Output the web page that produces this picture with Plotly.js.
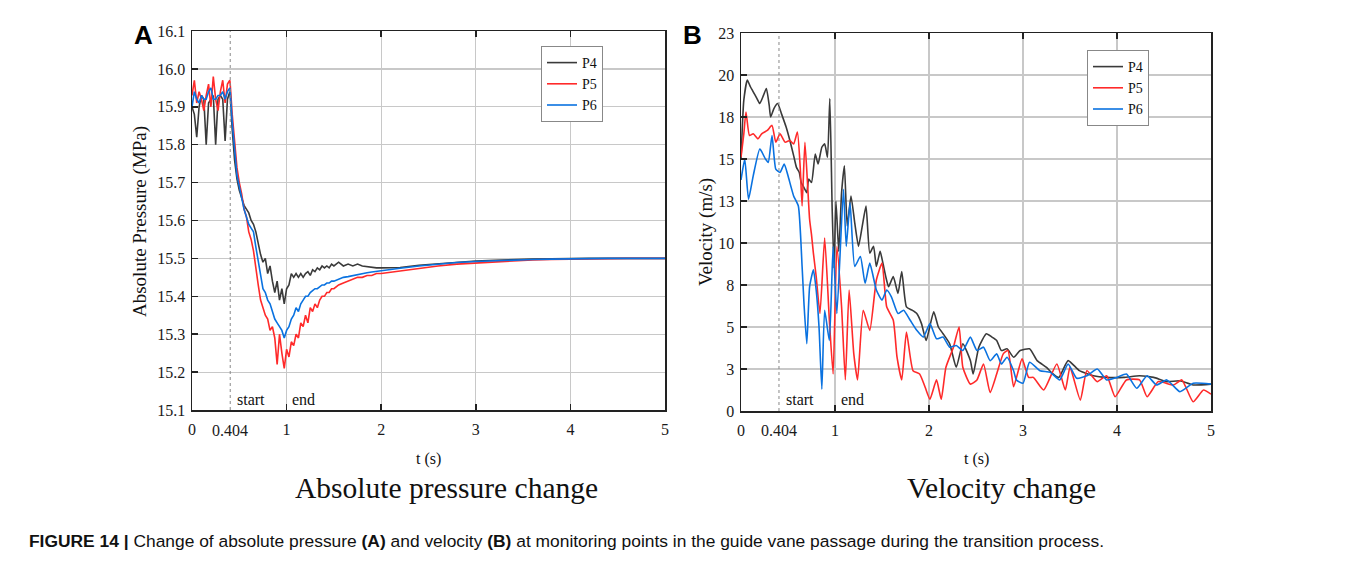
<!DOCTYPE html>
<html><head><meta charset="utf-8">
<script src="https://cdn.plot.ly/plotly-3.0.1.min.js"></script>
<style>html,body{margin:0;padding:0;background:#fff;}#chart{width:1351px;height:569px;}</style>
</head><body><div id="chart"></div>
<script>
// ---------- Panel A: absolute pressure ----------
const tA = [0,0.025,0.05,0.075,0.1,0.125,0.15,0.175,0.2,0.225,0.25,0.275,0.3,0.325,0.35,0.375,0.4,0.404,
0.425,0.45,0.475,0.5,0.525,0.55,0.575,0.6,0.625,0.65,0.675,0.7,0.725,0.75,0.775,0.8,0.825,0.85,0.875,0.9,0.925,0.95,0.975,1.0,
1.025,1.05,1.075,1.1,1.125,1.15,1.175,1.2,1.225,1.25,1.275,1.3,1.325,1.35,1.375,1.4,1.425,1.45,1.475,1.5,
1.55,1.6,1.65,1.7,1.75,1.8,1.85,1.9,1.95,2.0,
2.2,2.4,2.6,2.8,3.0,3.2,3.4,3.6,3.8,4.0,4.2,4.4,4.6,4.8,5.0];
const pP4 = [15.90,15.88,15.82,15.90,15.93,15.92,15.80,15.91,15.92,15.93,15.80,15.92,15.93,15.92,15.81,15.92,15.94,15.93,
15.84,15.76,15.71,15.68,15.66,15.64,15.63,15.62,15.60,15.59,15.57,15.54,15.51,15.49,15.50,15.46,15.48,15.44,15.41,15.44,15.39,15.42,15.38,15.42,
15.43,15.46,15.45,15.46,15.45,15.46,15.45,15.46,15.465,15.455,15.47,15.465,15.475,15.47,15.48,15.475,15.48,15.475,15.485,15.48,
15.49,15.48,15.485,15.48,15.485,15.48,15.478,15.476,15.475,15.475,
15.476,15.482,15.486,15.49,15.493,15.495,15.497,15.498,15.499,15.5,15.5,15.5,15.5,15.5,15.5];
const pP5 = [15.93,15.97,15.91,15.94,15.92,15.89,15.93,15.96,15.90,15.98,15.92,15.89,15.94,15.97,15.91,15.96,15.97,15.96,
15.88,15.80,15.74,15.70,15.67,15.63,15.61,15.57,15.55,15.52,15.47,15.43,15.39,15.37,15.35,15.34,15.31,15.32,15.29,15.22,15.30,15.25,15.21,15.26,
15.24,15.28,15.27,15.30,15.29,15.33,15.32,15.35,15.33,15.37,15.36,15.38,15.37,15.39,15.40,15.40,15.41,15.41,15.42,15.42,
15.43,15.435,15.44,15.445,15.45,15.45,15.455,15.455,15.46,15.46,
15.467,15.474,15.48,15.485,15.488,15.491,15.494,15.496,15.497,15.498,15.499,15.5,15.5,15.5,15.5];
const pP6 = [15.90,15.94,15.92,15.91,15.93,15.92,15.92,15.94,15.95,15.92,15.92,15.93,15.93,15.94,15.92,15.94,15.95,15.94,
15.86,15.78,15.72,15.69,15.66,15.63,15.61,15.59,15.58,15.57,15.53,15.49,15.45,15.42,15.41,15.39,15.38,15.36,15.34,15.33,15.32,15.31,15.29,15.31,
15.32,15.34,15.35,15.37,15.36,15.38,15.39,15.40,15.40,15.41,15.415,15.42,15.42,15.425,15.43,15.43,15.435,15.435,15.44,15.44,
15.445,15.45,15.452,15.455,15.457,15.46,15.462,15.464,15.466,15.467,
15.474,15.48,15.485,15.489,15.492,15.494,15.496,15.497,15.498,15.499,15.5,15.5,15.5,15.5,15.5];

// ---------- Panel B: velocity ----------
const tV4 = [0,0.03,0.067,0.1,0.13,0.17,0.2,0.24,0.27,0.3,0.315,0.35,0.39,0.43,0.48,0.52,0.56,0.59,0.62,0.64,0.67,0.70,0.72,0.75,0.79,0.82,0.86,0.89,0.92,0.945,0.97,0.99,1.01,1.04,1.07,1.1,1.13,1.17,1.21,1.25,1.29,1.33,1.37,1.41,1.44,1.48,1.51,1.54,1.57,1.62,1.67,1.71,1.76,1.82,1.87,1.92,1.97,2.05,2.1,2.15,2.22,2.29,2.36,2.44,2.47,2.53,2.61,2.67,2.72,2.77,2.83,2.9,2.97,3.07,3.15,3.25,3.3,3.38,3.48,3.6,3.75,3.89,4.07,4.24,4.39,4.53,4.67,4.81,5.0];
const vP4 = [15.0,18.5,19.7,19.3,19.0,18.6,18.3,18.8,19.2,18.2,17.5,18.0,18.3,17.7,16.9,16.1,15.2,14.5,14.2,13.6,13.3,13.0,13.8,13.6,15.3,14.7,15.7,15.9,15.1,18.6,12.0,8.5,12.5,9.5,13.0,14.6,11.0,12.8,11.2,9.8,11.0,12.2,9.4,9.8,8.6,9.5,8.8,8.0,7.4,8.0,7.0,8.3,6.2,6.0,5.8,5.2,4.2,5.9,5.0,4.6,4.0,2.6,4.0,3.0,2.2,3.8,4.6,4.4,4.2,3.6,3.7,3.2,3.6,3.7,3.0,2.6,2.3,2.0,3.0,2.4,2.1,2.0,2.0,2.1,2.0,1.75,1.8,1.55,1.6];
const tV5 = [0,0.03,0.053,0.09,0.13,0.18,0.22,0.28,0.33,0.37,0.415,0.47,0.52,0.56,0.6,0.63,0.65,0.68,0.71,0.73,0.75,0.77,0.8,0.84,0.89,0.94,0.98,1.02,1.07,1.11,1.15,1.2,1.24,1.3,1.37,1.44,1.5,1.55,1.62,1.66,1.71,1.76,1.83,1.9,1.96,2.01,2.08,2.13,2.18,2.26,2.32,2.36,2.44,2.51,2.58,2.65,2.72,2.79,2.84,2.9,2.99,3.06,3.11,3.22,3.36,3.45,3.5,3.61,3.68,3.79,3.89,3.98,4.1,4.24,4.32,4.44,4.6,4.69,4.81,4.92,5.0];
const vP5 = [15.1,16.5,17.8,16.4,16.5,16.2,16.5,16.7,17.0,16.0,16.5,16.0,16.1,15.9,16.6,14.5,12.2,16.0,13.3,11.4,10.5,9.4,8.0,5.8,10.3,5.4,2.2,9.8,6.2,1.85,7.2,3.4,1.85,6.0,4.8,7.8,8.8,6.2,5.4,3.2,1.85,4.7,2.4,2.2,1.4,0.7,1.85,0.7,2.6,3.8,5.0,2.6,1.6,1.85,2.8,1.1,2.2,3.4,3.6,1.45,3.1,2.0,2.0,1.25,2.8,1.25,2.6,0.65,2.4,1.75,2.1,0.85,1.85,1.85,0.85,1.75,1.55,1.85,0.55,1.25,1.0];
const tV6 = [0,0.04,0.08,0.13,0.2,0.26,0.29,0.33,0.37,0.415,0.46,0.5,0.56,0.61,0.65,0.67,0.7,0.73,0.77,0.8,0.83,0.86,0.89,0.94,0.98,1.02,1.09,1.12,1.16,1.21,1.27,1.32,1.37,1.44,1.5,1.55,1.6,1.67,1.73,1.8,1.87,1.94,2.01,2.08,2.15,2.22,2.29,2.36,2.44,2.51,2.58,2.65,2.72,2.77,2.83,2.9,2.93,3.0,3.07,3.18,3.29,3.39,3.48,3.57,3.68,3.79,3.89,4.0,4.1,4.21,4.32,4.42,4.53,4.67,4.81,5.0];
const vP6 = [13.75,15.0,12.6,14.0,15.6,15.0,14.8,16.4,14.4,14.2,14.7,14.0,12.8,12.2,8.6,6.4,4.0,7.4,8.4,7.2,5.0,1.3,6.0,4.2,9.8,5.8,13.2,9.8,12.4,8.6,9.2,7.6,8.8,7.2,6.6,7.2,6.8,5.8,6.0,5.4,4.8,4.4,5.2,4.3,4.4,3.8,3.9,3.6,4.4,3.6,3.8,3.0,3.4,2.8,3.2,2.4,1.85,1.65,2.9,2.4,2.3,1.85,2.8,1.95,2.1,2.5,1.85,2.0,2.2,1.35,2.1,1.55,1.85,1.15,1.65,1.6];

// ---------- ticks / labels ----------
const xTickVals = [0,1,2,3,4,5];
const xTickText = ['0','1','2','3','4','5'];
const pTickVals = [15.1,15.2,15.3,15.4,15.5,15.6,15.7,15.8,15.9,16.0,16.1];
const pTickText = ['15.1','15.2','15.3','15.4','15.5','15.6','15.7','15.8','15.9','16.0','16.1'];
const vTickVals = [0,2.5,5,7.5,10,12.5,15,17.5,20,22.5];
const vTickText = ['0','3','5','8','10','13','15','18','20','23'];
const seriesNames = ['P4','P5','P6'];
const seriesColors = ['#3a3a3a','#ff2a2a','#0a72e0'];
const startT = 0.404;

const W = 1351, H = 569;
const px = x => x / W, py = y => 1 - y / H;
const serif = 'Liberation Serif, Times New Roman, serif';
const sans = 'Liberation Sans, Arial, sans-serif';

const traces = [];
[pP4, pP5, pP6].forEach((ys, i) => traces.push({
  x: tA, y: ys, type: 'scatter', mode: 'lines', name: seriesNames[i],
  line: {color: seriesColors[i], width: 1.6}, xaxis: 'x', yaxis: 'y', legend: 'legend'
}));
[[tV4, vP4], [tV5, vP5], [tV6, vP6]].forEach((d, i) => traces.push({
  x: d[0], y: d[1], type: 'scatter', mode: 'lines', name: seriesNames[i],
  line: {color: seriesColors[i], width: 1.6, shape: 'spline', smoothing: 0.5}, xaxis: 'x2', yaxis: 'y2', legend: 'legend2'
}));

const tickFont = {family: serif, size: 16, color: '#1a1a1a'};
function xAx(dom, anchor) {
  return {domain: dom, anchor: anchor, range: [0, 5], tickvals: xTickVals, ticktext: xTickText,
    showgrid: true, gridcolor: '#c8c8c8', gridwidth: 1.2, zeroline: false,
    showline: true, linecolor: '#222', linewidth: 1.5, mirror: 'ticks',
    ticks: 'inside', ticklen: 6, tickwidth: 1.5, tickcolor: '#222', tickfont: tickFont, ticklabelstandoff: 4};
}
function yAx(dom, anchor, rng, tv, tt) {
  return {domain: dom, anchor: anchor, range: rng, tickvals: tv, ticktext: tt,
    showgrid: true, gridcolor: '#c8c8c8', gridwidth: 1.2, zeroline: false,
    showline: true, linecolor: '#222', linewidth: 1.5, mirror: true,
    ticks: 'inside', ticklen: 6, tickwidth: 1.5, tickcolor: '#222', tickfont: tickFont, ticklabelstandoff: 2};
}

const ann = [];
function txt(x, y, text, size, opts) {
  ann.push(Object.assign({xref: 'paper', yref: 'paper', x: px(x), y: py(y), text: text, showarrow: false,
    xanchor: 'center', yanchor: 'middle', font: {family: serif, size: size, color: '#111'}}, opts || {}));
}
txt(143, 35, '<b>A</b>', 26, {font: {family: sans, size: 26, color: '#000'}});
txt(692, 35, '<b>B</b>', 26, {font: {family: sans, size: 26, color: '#000'}});
txt(140, 222, 'Absolute Pressure (MPa)', 19, {textangle: -90});
txt(706, 232, 'Velocity (m/s)', 19, {textangle: -90});
txt(428, 459, 't (s)', 16);
txt(976, 459, 't (s)', 16);
txt(446, 488, 'Absolute pressure change', 29.5);
txt(1001, 488, 'Velocity change', 29.5);
// start / end and 0.404 labels
[['x', 'y'], ['x2', 'y2']].forEach(([xa, ya]) => {
  ann.push({xref: xa, yref: 'paper', x: startT, y: py(430), text: '0.404', showarrow: false, xanchor: 'center', yanchor: 'middle', font: tickFont});
  ann.push({xref: xa, yref: 'paper', x: startT + 0.05, y: py(399), text: 'start', showarrow: false, xanchor: 'left', yanchor: 'middle', font: {family: serif, size: 16, color: '#111'}});
  ann.push({xref: xa, yref: 'paper', x: 1.04, y: py(399), text: 'end', showarrow: false, xanchor: 'left', yanchor: 'middle', font: {family: serif, size: 16, color: '#111'}});
});
ann.push({xref: 'paper', yref: 'paper', x: px(27), y: py(541), xanchor: 'left', yanchor: 'middle', showarrow: false,
  text: '<b>FIGURE 14 |</b> Change of absolute pressure <b>(A)</b> and velocity <b>(B)</b> at monitoring points in the guide vane passage during the transition process.',
  font: {family: 'Liberation Sans, Arial, sans-serif', size: 17.4, color: '#111'}});

const domA = [py(410), py(31)], domB = [py(411), py(33)];
const legFont = {family: serif, size: 14, color: '#111'};
const layout = {
  width: W, height: H, margin: {l: 0, r: 0, t: 0, b: 0}, paper_bgcolor: '#fff', plot_bgcolor: '#fff',
  showlegend: true,
  xaxis: xAx([px(192), px(665)], 'y'),
  yaxis: yAx(domA, 'x', [15.1, 16.1], pTickVals, pTickText),
  xaxis2: xAx([px(741), px(1211)], 'y2'),
  yaxis2: yAx(domB, 'x2', [0, 22.5], vTickVals, vTickText),
  legend: {x: px(541), y: py(46), xanchor: 'left', yanchor: 'top', bgcolor: '#fff', bordercolor: '#888', borderwidth: 1,
    font: legFont, tracegroupgap: 0, itemwidth: 30},
  legend2: {x: px(1087), y: py(50), xanchor: 'left', yanchor: 'top', bgcolor: '#fff', bordercolor: '#888', borderwidth: 1,
    font: legFont, tracegroupgap: 0, itemwidth: 30},
  shapes: [
    {type: 'line', xref: 'x', yref: 'paper', x0: startT, x1: startT, y0: domA[0], y1: domA[1], line: {color: '#888', width: 1, dash: 'dot'}},
    {type: 'line', xref: 'x2', yref: 'paper', x0: startT, x1: startT, y0: domB[0], y1: domB[1], line: {color: '#888', width: 1, dash: 'dot'}}
  ],
  annotations: ann
};
Plotly.newPlot('chart', traces, layout, {staticPlot: true, displayModeBar: false});
</script></body></html>
